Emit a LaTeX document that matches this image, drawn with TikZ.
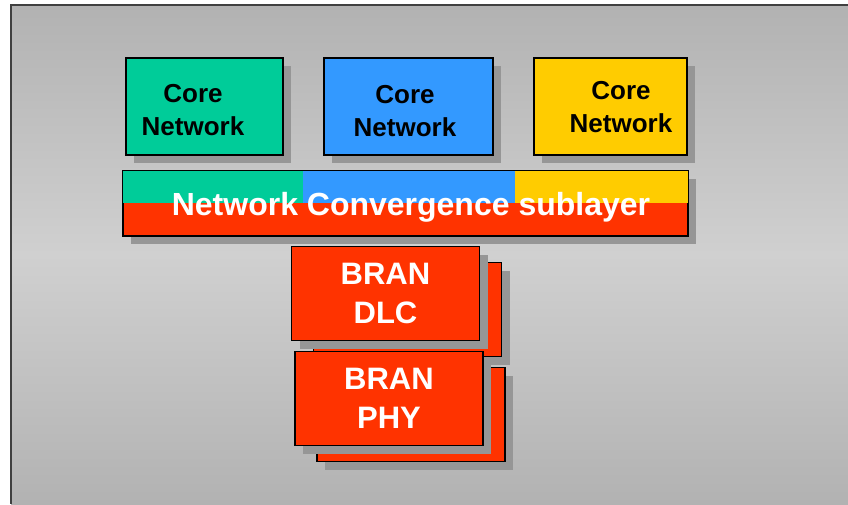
\documentclass[tikz,border=0pt]{standalone}
\usepackage{fontspec}
\setmainfont{Liberation Sans}
\usetikzlibrary{shadows}

\definecolor{coregreen}{HTML}{00CC99}
\definecolor{coreblue}{HTML}{3399FF}
\definecolor{coreyellow}{HTML}{FFCC00}
\definecolor{branred}{HTML}{FF3300}
\definecolor{shadowgray}{HTML}{969696}
\definecolor{slideedge}{HTML}{B2B2B2}
\definecolor{slidemid}{HTML}{D0D0D0}

\tikzstyle{box} = [draw=black,line width=1.2pt,inner sep=0pt,
  drop shadow={shadow xshift=8pt,shadow yshift=-8pt,fill=shadowgray,opacity=1}]
\tikzstyle{core box} = [box,minimum height=97pt]
\tikzstyle{core label} = [align=center,font=\fontsize{26}{33}\selectfont\bfseries]
\tikzstyle{bran} = [box,fill=branred,minimum width=188pt,minimum height=94pt,
  align=center,text=white,font=\fontsize{31}{39}\selectfont\bfseries]

\begin{document}
\begin{tikzpicture}[x=1pt,y=-1pt]
\useasboundingbox (0,0) rectangle (848,504);
% slide background
\shade[top color=slideedge,bottom color=slideedge,middle color=slidemid] (11,5) rectangle (848,504);
\draw[line width=1.5pt,black!75] (848,5) -- (11,5) -- (11,504);

% core networks
\foreach \pos/\name/\width/\col/\textpos in {{(204.5,106.5)/green/157/coregreen/(193,110)},
                                    {(408.5,106.5)/blue/169/coreblue/(405,111.5)},
                                    {(610.5,106.5)/yellow/153/coreyellow/(621,107)}}{
  \node[core box,fill=\col,minimum width=\width pt] (core-\name) at \pos {};
  \node[core label] (core-\name-label) at \textpos {Core\\Network};
}

% convergence sublayer
\node[box,fill=branred,minimum width=565pt,minimum height=65pt] (ncs) at (405.5,203.5) {};
\foreach \from/\to/\col in {123/303/coregreen, 303/515/coreblue, 515/688/coreyellow}
  \fill[\col] (\from,171) rectangle (\to,203);
\draw[line width=1.2pt] (ncs.north west) rectangle (ncs.south east);
\node[anchor=base,text=white,font=\fontsize{32}{38}\selectfont\bfseries] (ncs-label)
  at (411,215) {Network Convergence sublayer};

% BRAN stacks
\foreach \pos/\name/\txt in {{(385.5,293.5)/dlc/DLC}, {(389,398.5)/phy/PHY}}{
  \node[bran,xshift=22pt,yshift=-16pt] (\name-back) at \pos {};
  \node[bran] (\name) at \pos {BRAN\\\txt};
}
\end{tikzpicture}
\end{document}
